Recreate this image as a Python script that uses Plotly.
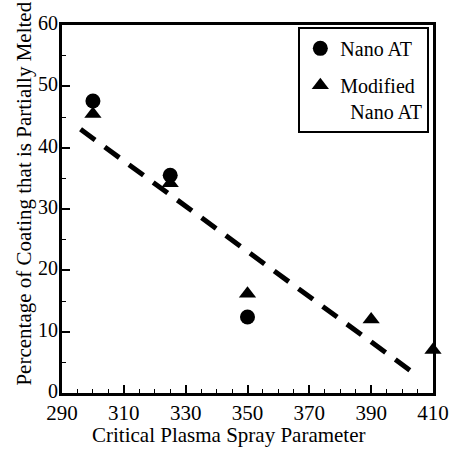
import plotly.graph_objects as go

# Measured coating melt fractions vs. critical plasma spray parameter
cpsp_nano = [300, 325, 350]
melt_nano = [47.6, 35.5, 12.4]

cpsp_mod = [300, 325, 350, 390, 410]
melt_mod = [45.5, 34.2, 16.2, 12.0, 7.0]

# Linear trend line endpoints
trend_x = [296, 405]
trend_y = [43.0, 2.8]

FONT = "Times New Roman"

fig = go.Figure()
fig.add_trace(go.Scatter(
    x=trend_x, y=trend_y, mode="lines",
    line=dict(color="black", width=5, dash="18px,12px"),
    showlegend=False, hoverinfo="skip",
))
fig.add_trace(go.Scatter(
    x=cpsp_nano, y=melt_nano, mode="markers", name="Nano AT",
    legendgroup="a",
    marker=dict(symbol="circle", size=15, color="black"),
))
fig.add_trace(go.Scatter(
    x=cpsp_mod, y=melt_mod, mode="markers", name="Modified<br>  Nano AT",
    legendgroup="b",
    marker=dict(symbol="triangle-up", size=15, color="black"),
    cliponaxis=False,
))

axis_common = dict(
    showgrid=False, zeroline=False, showline=True, linecolor="black",
    linewidth=3, mirror=True, ticks="inside", ticklen=8, tickwidth=1.5,
    tickcolor="black",
)

fig.update_xaxes(
    range=[290, 410], dtick=20, tick0=290,
    minor=dict(dtick=5, ticks="inside", ticklen=4, tickcolor="black", tickwidth=1),
    ticklabelstandoff=-1,
    tickfont=dict(family=FONT, size=21, color="black"),
    **axis_common,
)
fig.update_yaxes(
    range=[0, 60], dtick=10,
    minor=dict(dtick=5, ticks="inside", ticklen=4, tickcolor="black", tickwidth=1),
    ticklabelstandoff=-3, ticklabelshift=-2,
    tickfont=dict(family=FONT, size=20, color="black"),
    **axis_common,
)

# Axis titles placed as paper annotations
fig.add_annotation(
    text="Critical Plasma Spray Parameter", xref="paper", yref="paper",
    x=0.451, y=-0.115, xanchor="center", yanchor="middle", showarrow=False,
    font=dict(family=FONT, size=21, color="black"),
)
fig.add_annotation(
    text="Percentage of Coating that is Partially Melted", xref="paper", yref="paper",
    x=-0.105, y=0.542, xanchor="center", yanchor="middle", showarrow=False,
    textangle=-90, font=dict(family=FONT, size=21, color="black"),
)

fig.update_layout(
    width=461, height=449,
    margin=dict(l=62, r=22, t=13, b=56),
    paper_bgcolor="white", plot_bgcolor="white",
    font=dict(family=FONT, size=21, color="black"),
    legend=dict(
        x=0.637, y=0.995, xanchor="left", yanchor="top",
        bordercolor="black", borderwidth=2, bgcolor="white",
        valign="top", itemwidth=30, traceorder="grouped", tracegroupgap=8,
        font=dict(family=FONT, size=20, color="black"),
    ),
)

fig.write_html("out.html")
